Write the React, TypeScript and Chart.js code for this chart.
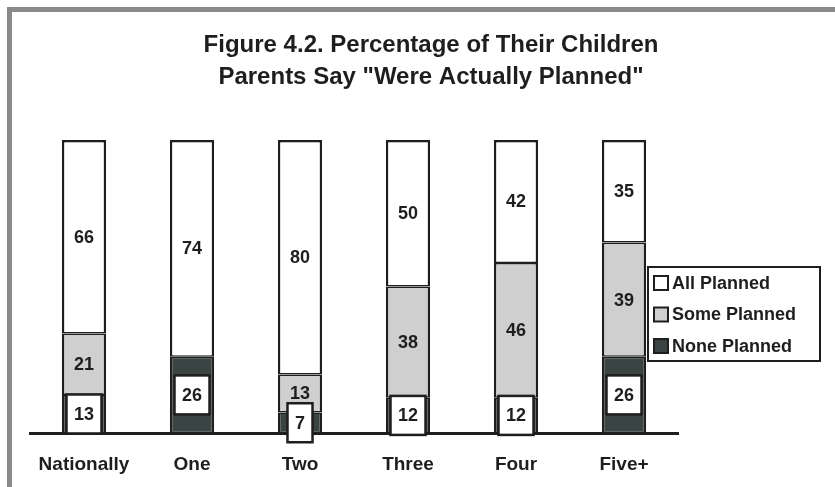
import React, { useEffect, useRef } from "react";
import { Chart, registerables } from "chart.js";

Chart.register(...registerables);

const categories = ["Nationally", "One", "Two", "Three", "Four", "Five+"];
const nonePlanned = [13, 26, 7, 12, 12, 26];
const somePlanned = [21, 0, 13, 38, 46, 39];
const allPlanned = [66, 74, 80, 50, 42, 35];
const titleLines = [
  "Figure 4.2. Percentage of Their Children",
  'Parents Say "Were Actually Planned"',
];
const seriesNames = ["None Planned", "Some Planned", "All Planned"];

const FONT = "'Liberation Sans', Arial, Helvetica, sans-serif";
const INK = "#1e1e1e";
const COLORS = ["#3a4442", "#cfcfcf", "#ffffff"];

const titlePlugin = {
  id: "titleText",
  afterDraw(chart: any) {
    const ctx = chart.ctx;
    ctx.save();
    ctx.fillStyle = INK;
    ctx.font = `bold 24px ${FONT}`;
    ctx.textAlign = "center";
    ctx.textBaseline = "alphabetic";
    ctx.fillText(titleLines[0], 431, 52);
    ctx.fillText(titleLines[1], 431, 84);
    ctx.restore();
  },
};

const valueLabelPlugin = {
  id: "valueLabels",
  afterDatasetsDraw(chart: any) {
    const ctx = chart.ctx;
    ctx.save();
    ctx.font = `bold 18px ${FONT}`;
    ctx.textAlign = "center";
    ctx.textBaseline = "middle";
    chart.data.datasets.forEach((ds: any, d: number) => {
      const meta = chart.getDatasetMeta(d);
      meta.data.forEach((bar: any, i: number) => {
        const v = ds.data[i];
        if (!v) return;
        const { x, y, base } = bar.getProps(["x", "y", "base"], true);
        const cy = (y + base) / 2;
        const txt = String(v);
        if (d === 0) {
          const w = ctx.measureText(txt).width + 15;
          const h = 39;
          ctx.fillStyle = "#ffffff";
          ctx.fillRect(x - w / 2, cy - h / 2, w, h);
          ctx.strokeStyle = INK;
          ctx.lineWidth = 2.5;
          ctx.strokeRect(x - w / 2, cy - h / 2, w, h);
        }
        ctx.fillStyle = INK;
        ctx.fillText(txt, x, cy + 1);
      });
    });
    ctx.restore();
  },
};

const legendPlugin = {
  id: "boxLegend",
  afterDraw(chart: any) {
    const ctx = chart.ctx;
    const left = 648;
    const top = 267;
    const w = 172;
    const h = 94;
    ctx.save();
    ctx.fillStyle = "#ffffff";
    ctx.fillRect(left, top, w, h);
    ctx.strokeStyle = INK;
    ctx.lineWidth = 2;
    ctx.strokeRect(left, top, w, h);
    ctx.font = `bold 18px ${FONT}`;
    ctx.textAlign = "left";
    ctx.textBaseline = "middle";
    const order = [2, 1, 0];
    order.forEach((d, k) => {
      const ds = chart.data.datasets[d];
      const cy = top + 16 + k * 31.5;
      ctx.fillStyle = ds.backgroundColor;
      ctx.fillRect(654, cy - 7, 14, 14);
      ctx.lineWidth = 2;
      ctx.strokeStyle = INK;
      ctx.strokeRect(654, cy - 7, 14, 14);
      ctx.fillStyle = INK;
      ctx.fillText(ds.label, 672, cy + 1);
    });
    ctx.restore();
  },
};

export default function App() {
  const canvasRef = useRef<HTMLCanvasElement | null>(null);

  useEffect(() => {
    if (!canvasRef.current) return;
    const data = [nonePlanned, somePlanned, allPlanned];
    const chart = new Chart(canvasRef.current, {
      type: "bar",
      data: {
        labels: categories,
        datasets: data.map((vals, d) => ({
          label: seriesNames[d],
          data: vals,
          backgroundColor: COLORS[d],
          borderColor: INK,
          borderWidth:
            d === 2
              ? { left: 2.5, right: 2.5, top: 2.5, bottom: 1.5 }
              : { left: 2.5, right: 2.5, top: 1.5, bottom: 1.5 },
          borderSkipped: false,
          barPercentage: 0.41,
          categoryPercentage: 1,
        })),
      },
      options: {
        responsive: false,
        devicePixelRatio: 1,
        animation: false,
        events: [],
        layout: { padding: { left: 30, right: 157, top: 140, bottom: 0 } },
        plugins: {
          legend: { display: false },
          title: { display: false },
          tooltip: { enabled: false },
        },
        scales: {
          x: {
            stacked: true,
            grid: { display: false, drawTicks: false },
            border: { display: true, color: INK, width: 3 },
            ticks: {
              color: INK,
              padding: 20,
              font: { family: FONT, size: 19, weight: "bold" },
            },
            afterFit: (scale: any) => {
              scale.height = 54;
            },
          },
          y: {
            stacked: true,
            display: false,
            min: 0,
            max: 100,
          },
        },
      },
      plugins: [valueLabelPlugin, legendPlugin, titlePlugin],
    } as any);
    return () => chart.destroy();
  }, []);

  return (
    <div
      style={{
        position: "absolute",
        left: 0,
        top: 0,
        width: 835,
        height: 487,
        background: "#ffffff",
        overflow: "hidden",
      }}
    >
      <div
        style={{
          position: "absolute",
          left: 7,
          top: 7,
          width: 835,
          height: 487,
          borderTop: "5px solid #8a8a8a",
          borderLeft: "5px solid #8a8a8a",
        }}
      />
      <canvas
        ref={canvasRef}
        width={835}
        height={487}
        style={{ position: "absolute", left: 0, top: 0, width: 835, height: 487 }}
      />
    </div>
  );
}
